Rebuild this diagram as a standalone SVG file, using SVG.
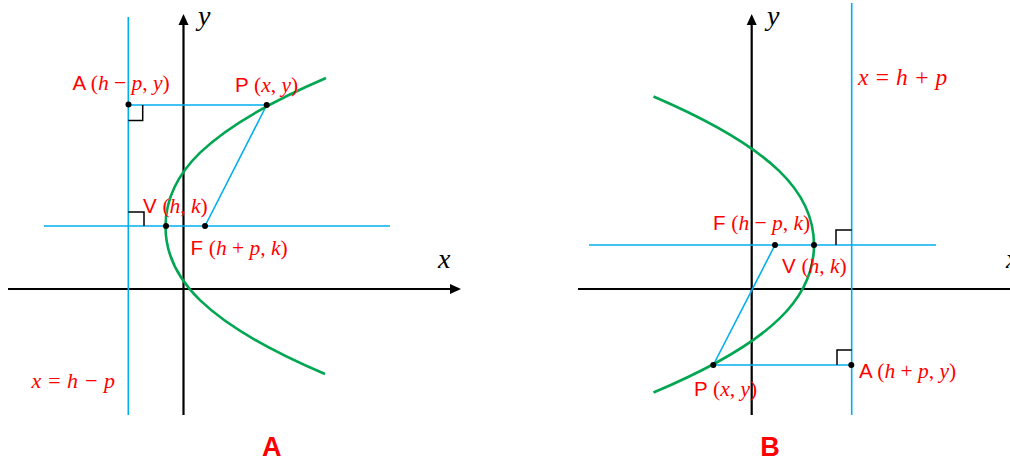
<svg xmlns="http://www.w3.org/2000/svg" width="1010" height="462" viewBox="0 0 1010 462">
<defs>
<style>
.ax{stroke:#000;stroke-width:2.2;fill:none}
.bl{stroke:#00aeef;stroke-width:1.6;fill:none}
.cv{stroke:#00a651;stroke-width:2.6;fill:none}
.ra{stroke:#000;stroke-width:1.5;fill:none}
.dot{fill:#000}
.lb{font-family:"Liberation Serif","Times New Roman",serif;font-size:21.5px;fill:#ff0000}
.sn{font-family:"Liberation Sans",Arial,sans-serif;font-style:normal;font-size:20.5px}
.it{font-style:italic}
.eq{font-family:"Liberation Serif","Times New Roman",serif;font-size:22px;font-style:italic;fill:#ff0000}
.axl{font-family:"Liberation Serif","Times New Roman",serif;font-size:28px;font-style:italic;fill:#000}
.big{font-family:"Liberation Sans",Arial,sans-serif;font-size:27px;font-weight:bold;fill:#ff0000;text-anchor:middle}
</style>
</defs>
<rect width="1010" height="462" fill="#fff"/>

<g id="panelA">
  <g id="axesA">
    <line class="ax" x1="183.5" y1="415" x2="183.5" y2="24"/>
    <polygon points="183.5,14 178.5,25 188.5,25" fill="#000"/>
    <line class="ax" x1="8" y1="289" x2="451" y2="289"/>
    <polygon points="461,289 450,284 450,294" fill="#000"/>
    <text class="axl" x="198" y="25">y</text>
    <text class="axl" x="438" y="268">x</text>
  </g>
  <g id="connectorsA">
    <line class="bl" x1="128.3" y1="17" x2="128.3" y2="415"/>
    <line class="bl" x1="44" y1="226" x2="390" y2="226"/>
    <line class="bl" x1="128.3" y1="105" x2="266.7" y2="105"/>
    <line class="bl" x1="266.7" y1="105" x2="205" y2="226"/>
    <path class="ra" d="M128.3,120.5 H142.7 V105"/>
    <path class="ra" d="M128.3,212 H144 V226"/>
  </g>
  <path id="parabolaA" class="cv" d="M326,78 C205,130 165.5,175 165.5,226.5 C165.5,278 205,323 325,374"/>
  <g id="nodeA_A"><circle class="dot" cx="128.5" cy="104.5" r="3"/>
    <text class="lb" x="72.5" y="90"><tspan class="sn">A </tspan>(<tspan class="it">h</tspan> − <tspan class="it">p</tspan>, <tspan class="it">y</tspan>)</text></g>
  <g id="nodeA_P"><circle class="dot" cx="266.7" cy="105" r="3"/>
    <text class="lb" x="235" y="92"><tspan class="sn">P </tspan>(<tspan class="it">x</tspan>, <tspan class="it">y</tspan>)</text></g>
  <g id="nodeA_V"><circle class="dot" cx="166" cy="226" r="3"/>
    <text class="lb" x="143" y="212.5"><tspan class="sn">V </tspan>(<tspan class="it">h</tspan>, <tspan class="it">k</tspan>)</text></g>
  <g id="nodeA_F"><circle class="dot" cx="205" cy="226" r="3"/>
    <text class="lb" x="190.5" y="255"><tspan class="sn">F </tspan>(<tspan class="it">h</tspan> + <tspan class="it">p</tspan>, <tspan class="it">k</tspan>)</text></g>
  <text id="dirA" class="eq" x="31.5" y="388">x = h − p</text>
  <text id="titleA" class="big" x="271.7" y="456">A</text>
</g>

<g id="panelB">
  <g id="axesB">
    <line class="ax" x1="751.7" y1="415" x2="751.7" y2="24"/>
    <polygon points="751.7,14 746.7,25 756.7,25" fill="#000"/>
    <line class="ax" x1="578" y1="289" x2="1010" y2="289"/>
    <text class="axl" x="767" y="25">y</text>
    <text class="axl" x="1006" y="268">x</text>
  </g>
  <g id="connectorsB">
    <line class="bl" x1="851.7" y1="3" x2="851.7" y2="415"/>
    <line class="bl" x1="589" y1="245" x2="936" y2="245"/>
    <line class="bl" x1="713.3" y1="365" x2="851.7" y2="365"/>
    <line class="bl" x1="713.3" y1="365" x2="775" y2="245"/>
    <path class="ra" d="M836,245 V230 H851.7"/>
    <path class="ra" d="M837,365 V350 H851.7"/>
  </g>
  <path id="parabolaB" class="cv" d="M653.5,96.5 C774.5,148.5 814,193.5 814,245 C814,296.5 774.5,341.5 653.5,392.5"/>
  <g id="nodeB_F"><circle class="dot" cx="775" cy="245" r="3"/>
    <text class="lb" x="713" y="230"><tspan class="sn">F </tspan>(<tspan class="it">h</tspan> − <tspan class="it">p</tspan>, <tspan class="it">k</tspan>)</text></g>
  <g id="nodeB_V"><circle class="dot" cx="814" cy="245" r="3"/>
    <text class="lb" x="782" y="272.5"><tspan class="sn">V </tspan>(<tspan class="it">h</tspan>, <tspan class="it">k</tspan>)</text></g>
  <g id="nodeB_A"><circle class="dot" cx="851.3" cy="365" r="3"/>
    <text class="lb" x="859" y="377.5"><tspan class="sn">A </tspan>(<tspan class="it">h</tspan> + <tspan class="it">p</tspan>, <tspan class="it">y</tspan>)</text></g>
  <g id="nodeB_P"><circle class="dot" cx="713.3" cy="365" r="3"/>
    <text class="lb" x="694" y="395.5"><tspan class="sn">P </tspan>(<tspan class="it">x</tspan>, <tspan class="it">y</tspan>)</text></g>
  <text id="dirB" class="eq" x="858" y="85" style="font-size:23.5px">x = h + p</text>
  <text id="titleB" class="big" x="770" y="456">B</text>
</g>
</svg>
